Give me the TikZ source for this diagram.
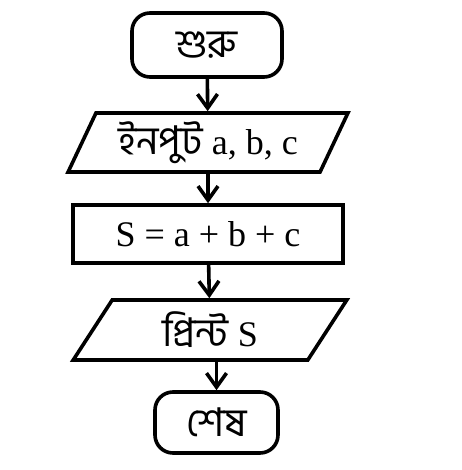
\documentclass[tikz,border=0pt]{standalone}
\usepackage{fontspec}
\setmainfont{Liberation Serif}
\newfontfamily\bangla[Script=Bengali,Scale=1.1]{Hind Siliguri}
\usetikzlibrary{shapes.geometric,arrows.meta}

\begin{document}
\begin{tikzpicture}[x=1pt,y=-1pt,line width=3.6pt,
    font=\fontsize{36}{42}\selectfont,
    term/.style={draw,rounded corners=18pt,minimum height=64pt,inner sep=0pt},
    io/.style={draw,trapezium,trapezium left angle=62,trapezium right angle=118,
        trapezium stretches=true,minimum width=280pt,minimum height=59pt,inner sep=0pt},
    proc/.style={draw,minimum width=270pt,minimum height=58pt,inner sep=0pt},
    flow/.style={-{Straight Barb[length=14pt,width=20pt]}}]
    \useasboundingbox (0,0) rectangle (461,470);

    \node[term,minimum width=150pt] (start) at (207,45) {\bangla শুরু};
    \node[io] (input) at (208,142.5) {{\bangla ইনপুট} a, b, c};
    \node[proc] (sum) at (208,234) {S = a + b + c};
    \node[io,minimum width=274pt,minimum height=60pt] (print) at (210,330) {{\bangla প্রিন্ট} S};
    \node[term,minimum width=123pt,minimum height=61pt] (stop) at (216.5,422.5) {\bangla শেষ};

    \draw[flow] (start) -- (input);
    \draw[flow] (input) -- (sum);
    \draw[flow] (sum) -- (print);
    \draw[flow] (print.south -| stop) -- (stop);
\end{tikzpicture}
\end{document}
